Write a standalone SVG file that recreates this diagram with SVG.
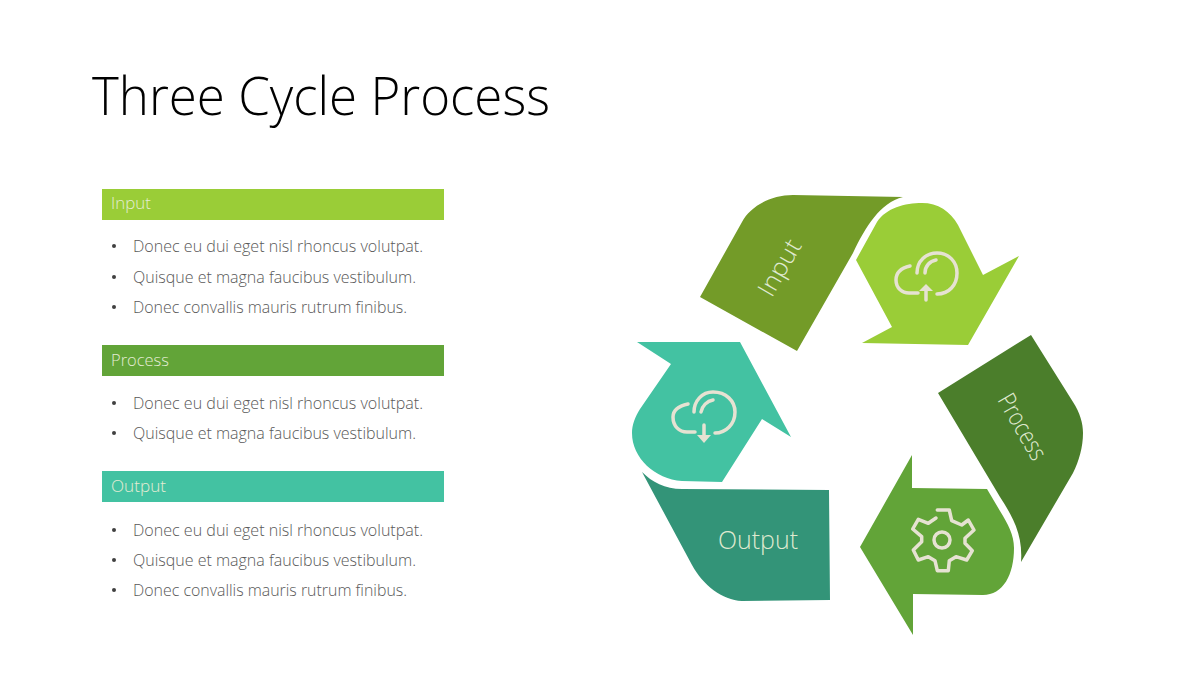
<svg xmlns="http://www.w3.org/2000/svg" width="1200" height="675" viewBox="0 0 1200 675">
<style>
text{font-family:"Open Sans","Noto Sans","Liberation Sans",sans-serif;font-weight:300}
.title{font-size:54px;fill:#000}
.bar{font-size:17px;fill:#e4ecd4}
.body{font-size:16px;fill:#595959}
.dot{fill:#404040}
.lab{fill:#dfe9cf;text-anchor:middle}
.ico{fill:none;stroke:#e6e2d2;stroke-width:3.5;stroke-linecap:round;stroke-linejoin:round}
.head{fill:#e6e2d2}
</style>
<rect width="1200" height="675" fill="#fff"/>
<text class="title" x="92" y="115" textLength="458" lengthAdjust="spacingAndGlyphs">Three Cycle Process</text>

<g id="list-input">
<rect x="102" y="189" width="342" height="31" fill="#9acd37"/>
<text class="bar" x="111" y="209" textLength="40" lengthAdjust="spacingAndGlyphs">Input</text>
<circle class="dot" cx="114" cy="246" r="2"/><text class="body" x="133" y="252" textLength="290" lengthAdjust="spacingAndGlyphs">Donec eu dui eget nisl rhoncus volutpat.</text>
<circle class="dot" cx="114" cy="277" r="2"/><text class="body" x="133" y="283" textLength="283" lengthAdjust="spacingAndGlyphs">Quisque et magna faucibus vestibulum.</text>
<circle class="dot" cx="114" cy="307" r="2"/><text class="body" x="133" y="313" textLength="274" lengthAdjust="spacingAndGlyphs">Donec convallis mauris rutrum finibus.</text>
</g>
<g id="list-process">
<rect x="102" y="345" width="342" height="31" fill="#62a438"/>
<text class="bar" x="111" y="366" textLength="58" lengthAdjust="spacingAndGlyphs">Process</text>
<circle class="dot" cx="114" cy="403" r="2"/><text class="body" x="133" y="409" textLength="290" lengthAdjust="spacingAndGlyphs">Donec eu dui eget nisl rhoncus volutpat.</text>
<circle class="dot" cx="114" cy="433" r="2"/><text class="body" x="133" y="439" textLength="283" lengthAdjust="spacingAndGlyphs">Quisque et magna faucibus vestibulum.</text>
</g>
<g id="list-output">
<rect x="102" y="471" width="342" height="31" fill="#43c2a2"/>
<text class="bar" x="111" y="492" textLength="55" lengthAdjust="spacingAndGlyphs">Output</text>
<circle class="dot" cx="114" cy="530" r="2"/><text class="body" x="133" y="536" textLength="290" lengthAdjust="spacingAndGlyphs">Donec eu dui eget nisl rhoncus volutpat.</text>
<circle class="dot" cx="114" cy="560" r="2"/><text class="body" x="133" y="566" textLength="283" lengthAdjust="spacingAndGlyphs">Quisque et magna faucibus vestibulum.</text>
<circle class="dot" cx="114" cy="590" r="2"/><text class="body" x="133" y="596" textLength="274" lengthAdjust="spacingAndGlyphs">Donec convallis mauris rutrum finibus.</text>
</g>

<g id="node-input">
<path d="M700 297L742 222C750 207 770 195 793 195L903 197C880 203 866 226 853 253L797 351Z" fill="#739b28"/>
<text class="lab" font-size="25" transform="translate(787 272) rotate(-60)" textLength="61" lengthAdjust="spacingAndGlyphs">Input</text>
</g>
<g id="node-input-arrow">
<path d="M856 260L877 222C886 208 905 203 922 203C938 203 950 211 958 225L983 275L1019 256L968 345L862 343L892 327Z" fill="#9acd37"/>
<path class="ico" d="M910 266C901 268 896 273 896 280C896 288 902 293 909 293H918"/>
<path class="ico" d="M917 273C917 261 926 253 937 253C949 253 957 262 957 273C957 285 949 294 937 294"/>
<path class="ico" d="M925 273C925 266 930 261 936 260"/>
<path class="ico" d="M926 300V288"/><path class="head" d="M919 291L926 284L933 291Z"/>
</g>
<g id="node-process">
<path d="M1031 335L1073 402C1080 413 1083 423 1083 433C1083 447 1079 461 1073 473L1021 562C1023 535 1013 517 1000 497L938 393Z" fill="#4b7e2b"/>
<text class="lab" font-size="25" transform="translate(1015 431) rotate(60)" textLength="72" lengthAdjust="spacingAndGlyphs">Process</text>
</g>
<g id="node-process-arrow">
<path d="M912 455V488L987 489L1000 511C1008 524 1014 535 1014 548C1014 575 1003 595 983 595L913 594V635L860 547Z" fill="#62a438"/>
<circle class="ico" cx="942" cy="540" r="8"/>
<path class="ico" d="M936 518L928.3 523.3L918.3 519.3L912.7 529L921.7 536.7V541.7L913.3 550L918.3 560L928.3 556.7L935 560.7L937.3 570.7H948.3L949.3 560.7L956 556.7L966.7 560L972.3 550.7L965 543.3V538.3L974 530L968.3 520L961.7 525L951.7 520.7L949.3 510H937.3"/>
</g>
<g id="node-output">
<path d="M642 472C652 482 665 489 682 489L829 490L830 600L742 601C722 600 703 585 692 565Z" fill="#339478"/>
<text class="lab" font-size="26" x="758" y="549" textLength="80" lengthAdjust="spacingAndGlyphs">Output</text>
</g>
<g id="node-output-arrow">
<path d="M637 342H740L791 437L762 419L722 482L682 481C655 479 632 458 632 433C632 425 635 417 640 409L671 364Z" fill="#43c2a2"/>
<path class="ico" d="M688 404C679 406 673 410 673 417C673 426 679 432 687 432H695"/>
<path class="ico" d="M694 412C694 401 702 392 713 392C726 392 735 401 735 412C735 424 726 433 715 433"/>
<path class="ico" d="M701 412C702 406 707 401 713 400"/>
<path class="ico" d="M704 425V437"/><path class="head" d="M697 435H711L704 443Z"/>
</g>
<g id="connectors"/>
</svg>
